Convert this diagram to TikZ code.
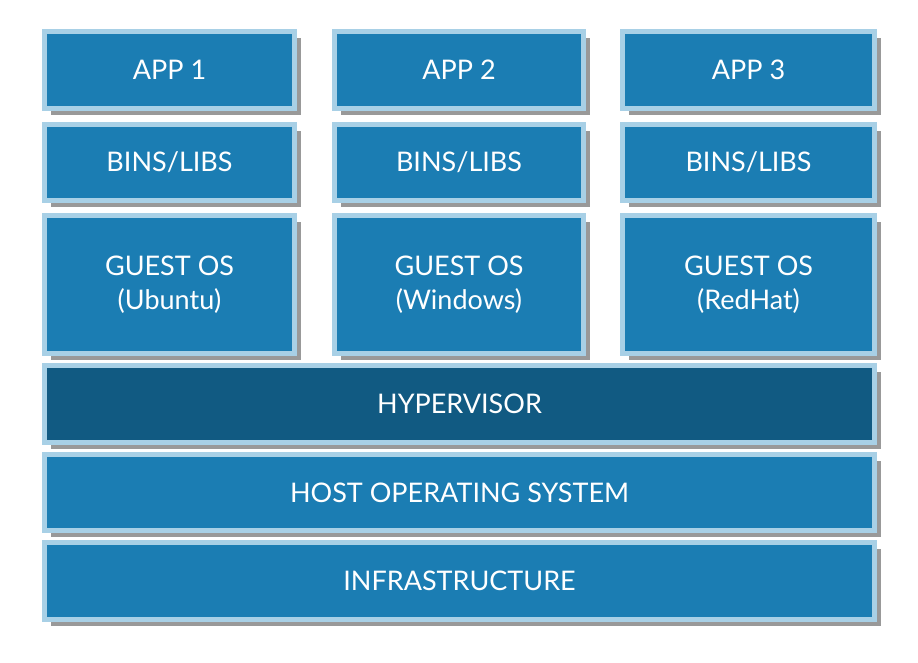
\documentclass[tikz,border=0pt]{standalone}
\usepackage{fontspec}
\setmainfont{Lato}
\usetikzlibrary{shadows}
\definecolor{boxfill}{HTML}{1B7DB3}
\definecolor{hypfill}{HTML}{115A82}
\definecolor{boxedge}{HTML}{A8D0E6}
\tikzset{
  layer/.style={draw=boxedge, line width=5pt, fill=boxfill, text=white,
    inner sep=0pt, align=center, font=\fontsize{27}{34}\selectfont,
    drop shadow={shadow xshift=6pt, shadow yshift=-6pt, fill=black!50, opacity=0.8}},
}
\begin{document}
\begin{tikzpicture}[x=1pt, y=-1pt]
\useasboundingbox (0,0) rectangle (918,662);
% columns
\foreach \n/\xa/\xb/\app/\os in {1/42/297/APP 1/Ubuntu, 2/332/586/APP 2/Windows, 3/620/877/APP 3/RedHat}{
  \node[layer, minimum width={\xb-\xa-5}, minimum height=77] (app\n) at ({(\xa+\xb)/2}, 70) {\app};
  \node[layer, minimum width={\xb-\xa-5}, minimum height=76] (bins\n) at ({(\xa+\xb)/2}, 162.5) {BINS/LIBS};
  \node[layer, minimum width={\xb-\xa-5}, minimum height=138] (guest\n) at ({(\xa+\xb)/2}, 284.5) {GUEST OS\\(\os)};
}
\node[layer, fill=hypfill, minimum width=830, minimum height=77] (hyp) at (459.5, 404) {HYPERVISOR};
\node[layer, minimum width=830, minimum height=76] (host) at (459.5, 492.5) {HOST OPERATING SYSTEM};
\node[layer, minimum width=830, minimum height=77] (infra) at (459.5, 581) {INFRASTRUCTURE};
\end{tikzpicture}
\end{document}
